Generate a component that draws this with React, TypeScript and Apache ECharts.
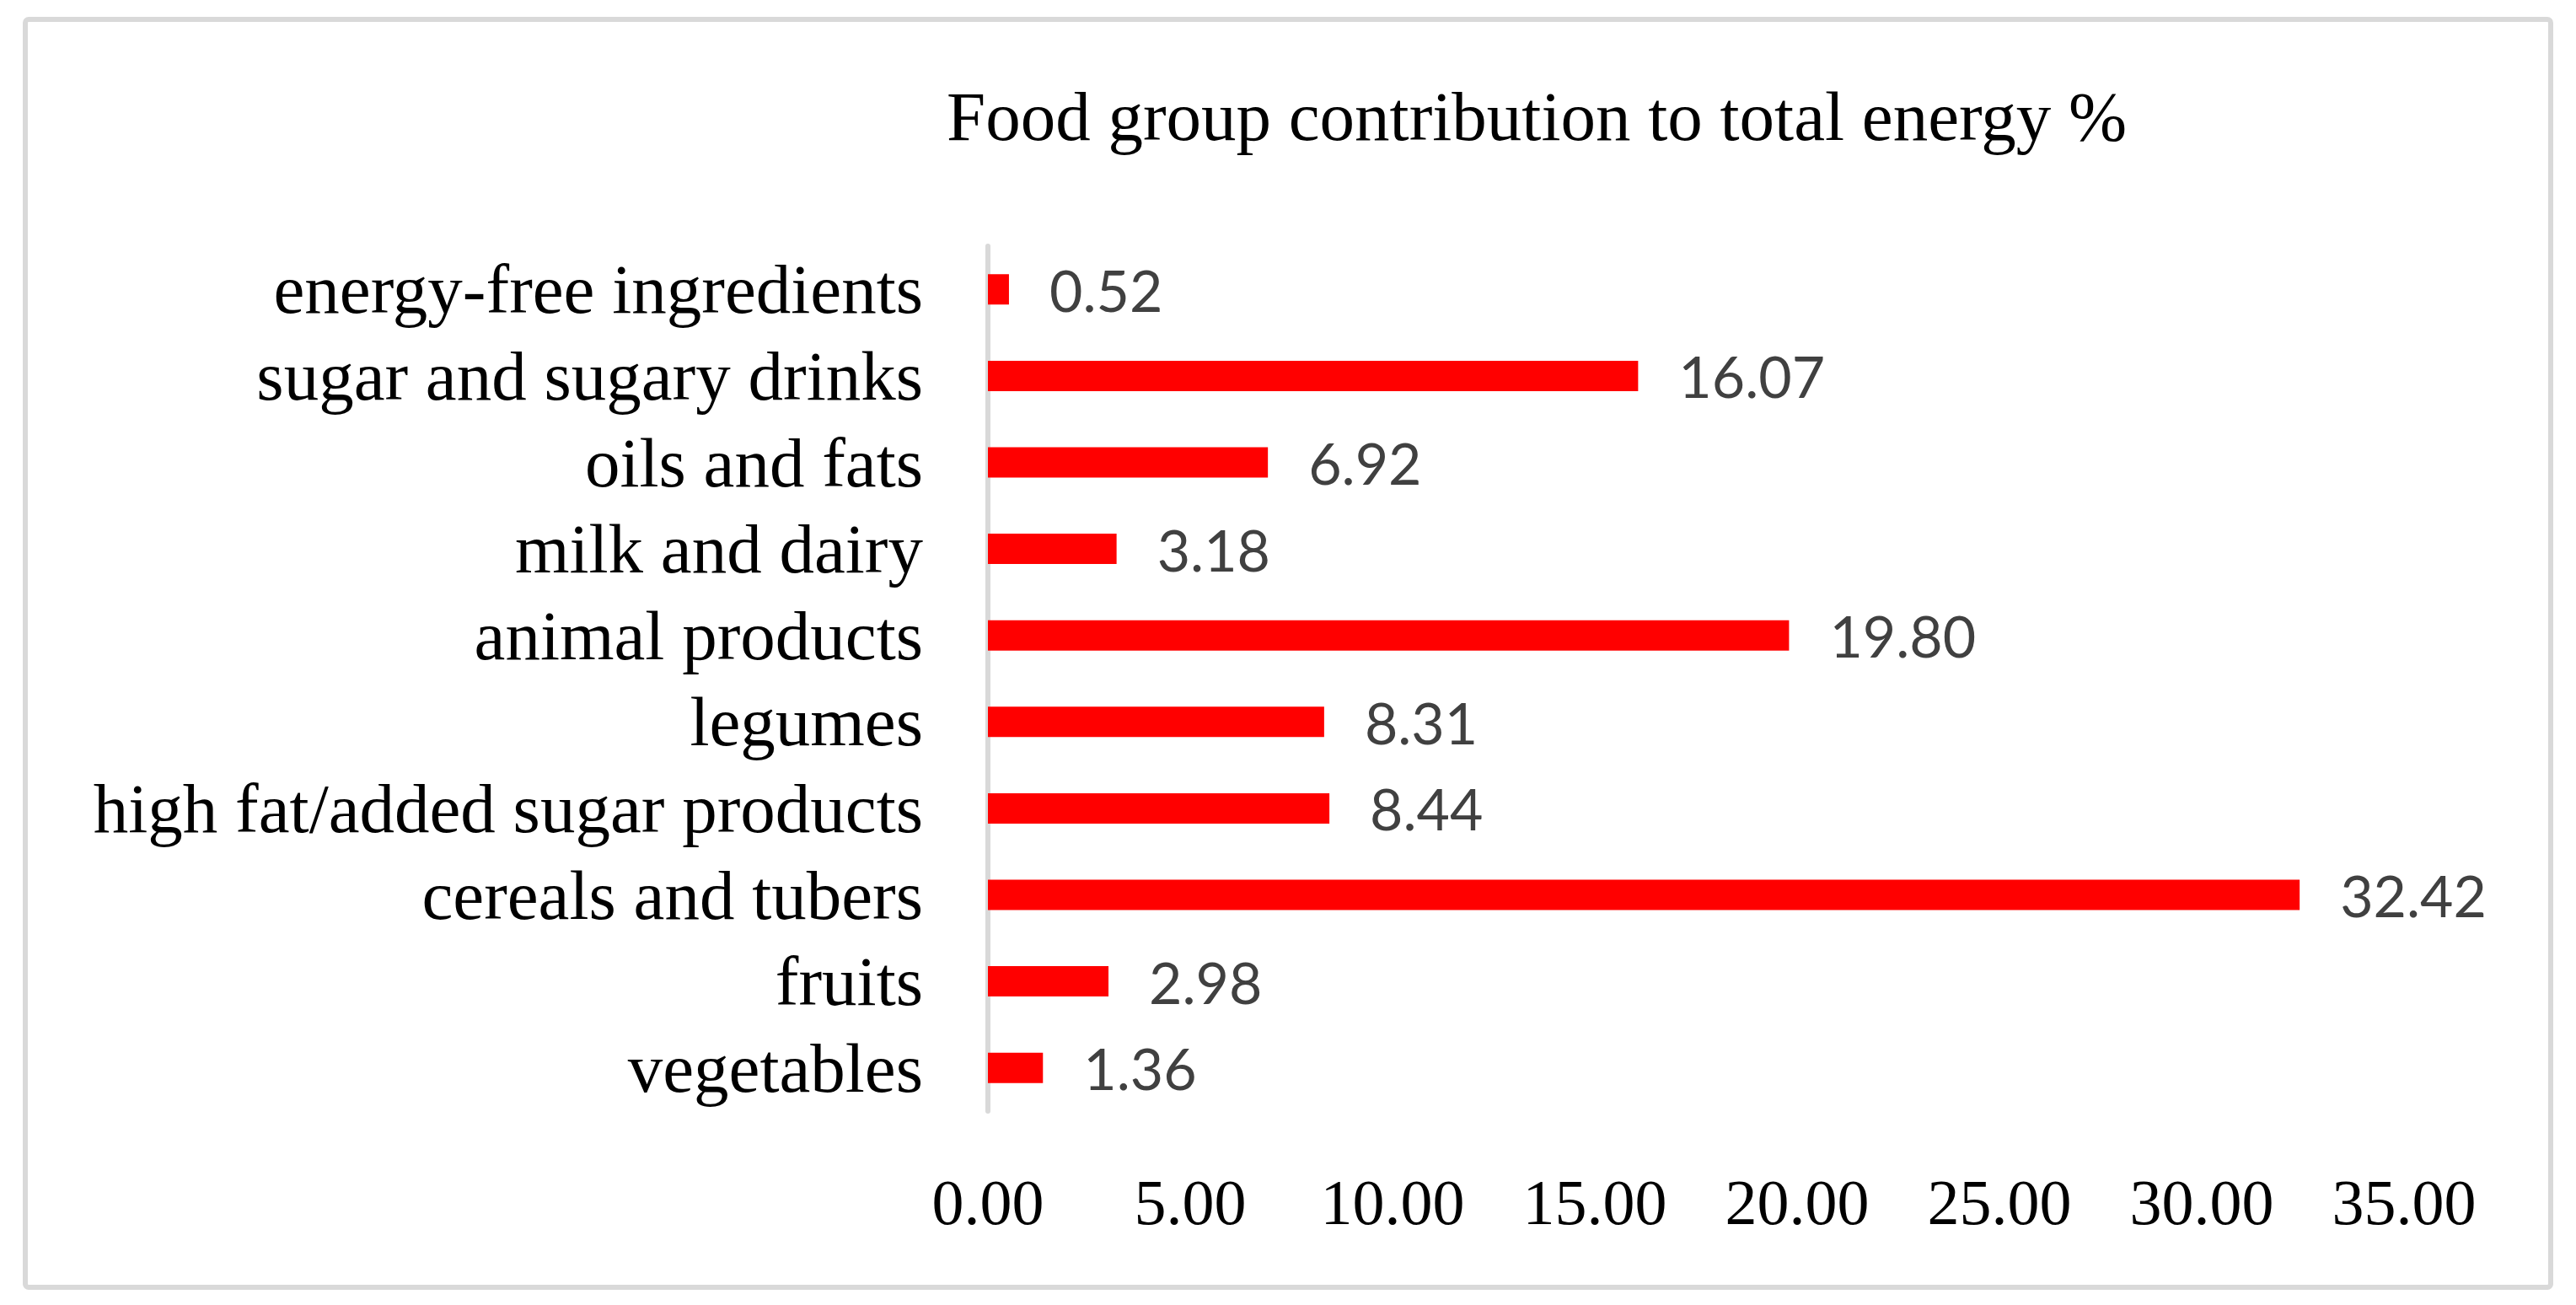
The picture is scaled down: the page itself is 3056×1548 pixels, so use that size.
import React, { useEffect, useRef } from "react";
import * as echarts from "echarts";

const titleText = "Food group contribution to total energy %";

const categories = [
  "energy-free ingredients",
  "sugar and sugary drinks",
  "oils and fats",
  "milk and dairy",
  "animal products",
  "legumes",
  "high fat/added sugar products",
  "cereals and tubers",
  "fruits",
  "vegetables",
];

const values = [0.52, 16.07, 6.92, 3.18, 19.8, 8.31, 8.44, 32.42, 2.98, 1.36];

const xMin = 0;
const xMax = 35;
const xInterval = 5;

export default function App() {
  const ref = useRef<HTMLDivElement>(null);

  useEffect(() => {
    document.body.style.margin = "0";
    if (!ref.current) return;
    const chart = echarts.init(ref.current, null, { renderer: "svg" });
    const serif = "'Liberation Serif', 'Times New Roman', serif";
    chart.setOption({
      animation: false,
      backgroundColor: "#ffffff",
      title: {
        text: titleText,
        left: 1818,
        top: 91,
        textAlign: "center",
        textStyle: {
          fontFamily: serif,
          fontSize: 83,
          lineHeight: 83,
          fontWeight: "normal",
          color: "#000000",
        },
      },
      graphic: [
        {
          type: "rect",
          shape: { x: 30, y: 23, width: 2996, height: 1504, r: 4 },
          style: { fill: "none", stroke: "#d9d9d9", lineWidth: 6 },
          silent: true,
        },
      ],
      grid: {
        left: 1172,
        right: 204,
        top: 292,
        bottom: 230,
        containLabel: false,
        outerBoundsMode: "none",
      },
      xAxis: {
        type: "value",
        min: xMin,
        max: xMax,
        interval: xInterval,
        axisLine: { show: false },
        axisTick: { show: false },
        splitLine: { show: false },
        axisLabel: {
          formatter: (v: number) => v.toFixed(2),
          fontFamily: serif,
          fontSize: 76,
          lineHeight: 76,
          color: "#000000",
          margin: 70,
        },
      },
      yAxis: {
        type: "category",
        data: categories,
        inverse: true,
        axisLine: { show: true, lineStyle: { color: "#d9d9d9", width: 6 } },
        axisTick: { show: false },
        splitLine: { show: false },
        axisLabel: {
          interval: 0,
          hideOverlap: false,
          fontFamily: serif,
          fontSize: 83,
          color: "#000000",
          margin: 77,
        },
      },
      series: [
        {
          type: "bar",
          data: values,
          barWidth: 36,
          itemStyle: { color: "#ff0000" },
          label: {
            show: true,
            position: "right",
            distance: 48,
            formatter: (p: any) => Number(p.value).toFixed(2),
            fontFamily: "Lato, 'Open Sans', sans-serif",
            fontSize: 68,
            color: "#404040",
          },
        },
      ],
    });
    return () => chart.dispose();
  }, []);

  return (
    <div
      ref={ref}
      style={{ position: "absolute", left: 0, top: 0, width: 3056, height: 1548 }}
    />
  );
}
